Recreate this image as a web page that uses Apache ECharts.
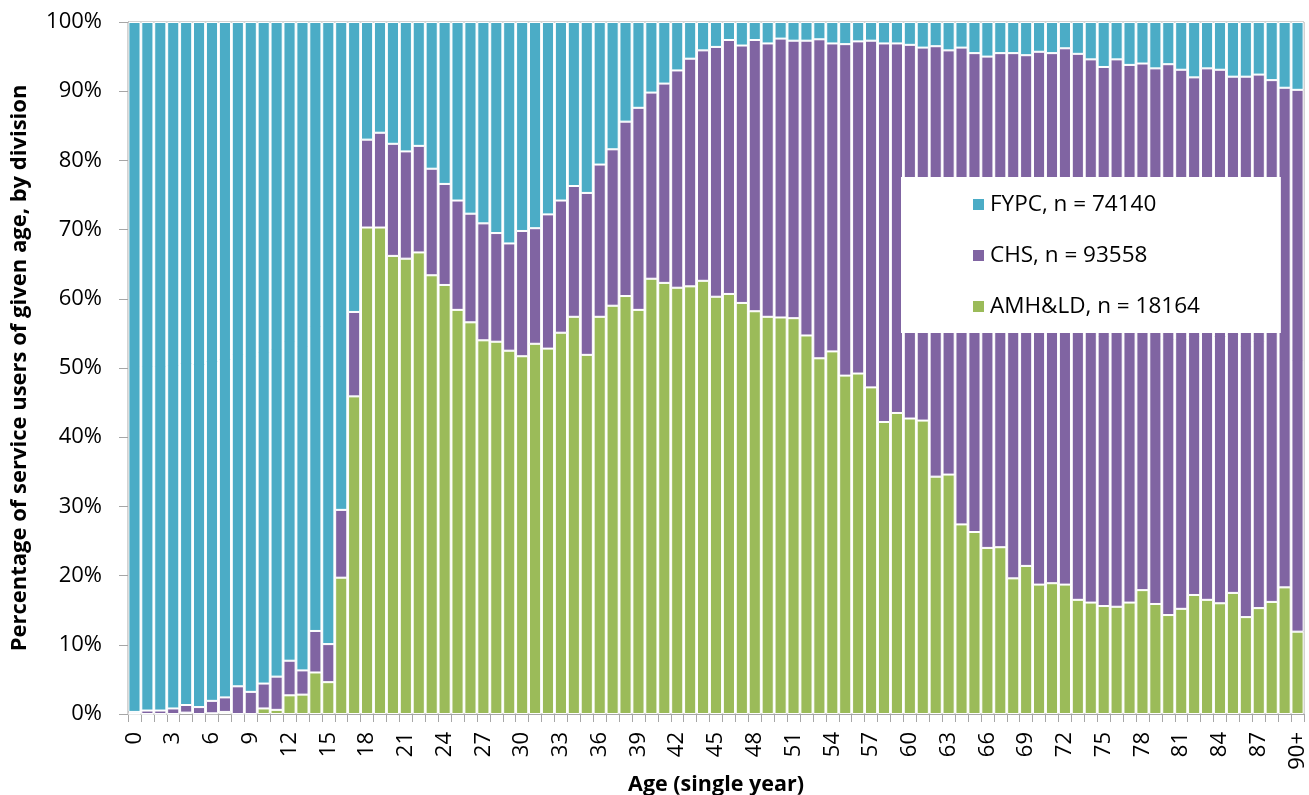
<!DOCTYPE html>
<html>
<head>
<meta charset="utf-8">
<script src="https://cdn.jsdelivr.net/npm/echarts@6/dist/echarts.min.js"></script>
<style>
html,body{margin:0;padding:0;background:#fff;}
#chart{width:1309px;height:795px;}
</style>
</head>
<body>
<div id="chart"></div>
<script>
// Ages 0..89 and 90+
const ages = [];
for (let i = 0; i < 90; i++) ages.push(String(i));
ages.push('90+');

const seriesNames = ['FYPC, n = 74140', 'CHS, n = 93558', 'AMH&LD, n = 18164'];

// Percentages per age
const amhld = [0,0,0,0,0.2,0,0.1,0.3,0,0,
  0.8,0.6,2.7,2.8,6.0,4.6,19.7,45.9,70.3,70.3,
  66.2,65.8,66.7,63.4,62.0,58.4,56.6,54.0,53.8,52.5,
  51.7,53.5,52.8,55.1,57.4,51.9,57.4,59.0,60.4,58.4,
  62.9,62.3,61.6,61.8,62.6,60.3,60.7,59.4,58.2,57.4,
  57.3,57.2,54.7,51.4,52.4,48.9,49.2,47.2,42.2,43.5,
  42.7,42.4,34.3,34.6,27.4,26.3,24.0,24.1,19.6,21.4,
  18.7,18.9,18.7,16.5,16.1,15.6,15.5,16.1,17.9,15.9,
  14.3,15.2,17.2,16.5,16.0,17.5,14.0,15.3,16.2,18.3,
  11.9];
const chs = [0.3,0.5,0.5,0.8,1.1,1.0,1.8,2.1,4.0,3.2,
  3.6,4.8,5.0,3.5,6.0,5.5,9.8,12.2,12.7,13.7,
  16.2,15.5,15.4,15.4,14.6,15.8,15.7,16.9,15.7,15.5,
  18.1,16.7,19.4,19.1,18.9,23.4,22.0,22.6,25.2,29.2,
  26.9,28.8,31.4,32.9,33.3,36.1,36.7,37.2,39.2,39.5,
  40.3,40.1,42.6,46.1,44.5,47.9,48.0,50.1,54.7,53.4,
  54.0,53.9,62.2,61.3,68.9,69.2,71.0,71.4,75.9,73.8,
  77.0,76.6,77.5,78.9,78.5,77.9,79.1,77.7,76.1,77.4,
  79.6,77.9,74.8,76.8,77.1,74.6,78.1,77.1,75.4,72.2,
  78.3];
const fypc = [99.7,99.5,99.5,99.2,98.7,99.0,98.1,97.6,96.0,96.8,
  95.6,94.6,92.3,93.7,88.0,89.9,70.5,41.9,17.0,16.0,
  17.6,18.7,17.9,21.2,23.4,25.8,27.7,29.1,30.5,32.0,
  30.2,29.8,27.8,25.8,23.7,24.7,20.6,18.4,14.4,12.4,
  10.2,8.9,7.0,5.3,4.1,3.6,2.6,3.4,2.6,3.1,
  2.4,2.7,2.7,2.5,3.1,3.2,2.8,2.7,3.1,3.1,
  3.3,3.7,3.5,4.1,3.7,4.5,5.0,4.5,4.5,4.8,
  4.3,4.5,3.8,4.6,5.4,6.5,5.4,6.2,6.0,6.7,
  6.1,6.9,8.0,6.7,6.9,7.9,7.9,7.6,8.4,9.5,
  9.8];

const colors = {fypc: '#4BACC6', chs: '#8064A2', amh: '#9BBB59'};
const FONT = 'Open Sans';

const chart = echarts.init(document.getElementById('chart'), null, {renderer: 'canvas'});

function barSeries(name, data, color) {
  return {
    name: name,
    type: 'bar',
    stack: 'total',
    data: data,
    barCategoryGap: '6%',
    itemStyle: {color: color, borderColor: '#ffffff', borderWidth: 1},
    emphasis: {disabled: true}
  };
}

chart.setOption({
  animation: false,
  textStyle: {fontFamily: FONT},
  grid: {left: 128, right: 5, top: 22, bottom: 81, containLabel: false, outerBoundsMode: 'none',
    show: true, borderColor: '#a6a6a6', borderWidth: 1, backgroundColor: 'transparent'},
  legend: {
    data: seriesNames,
    orient: 'vertical',
    left: 901,
    top: 177,
    backgroundColor: '#ffffff',
    padding: [16, 81, 15, 70],
    itemGap: 28,
    itemWidth: 13,
    itemHeight: 13,
    icon: 'rect',
    textStyle: {fontFamily: FONT, fontSize: 22.5, color: '#000'}
  },
  xAxis: {
    type: 'category',
    data: ages,
    name: 'Age (single year)',
    nameLocation: 'middle',
    nameGap: 60,
    nameMoveOverlap: false,
    nameTextStyle: {fontFamily: FONT, fontSize: 21.5, fontWeight: 'bold', color: '#000'},
    axisLine: {lineStyle: {color: '#a6a6a6', width: 1}},
    axisTick: {show: true, interval: 0, length: 8, lineStyle: {color: '#a6a6a6'}},
    axisLabel: {interval: 2, rotate: 90, margin: 18, fontFamily: FONT, fontSize: 22, color: '#000'}
  },
  yAxis: {
    type: 'value',
    min: 0,
    max: 100,
    interval: 10,
    name: 'Percentage of service users of given age, by division',
    nameLocation: 'middle',
    nameGap: 97,
    nameMoveOverlap: false,
    nameTextStyle: {fontFamily: FONT, fontSize: 22, fontWeight: 'bold', color: '#000'},
    axisLine: {show: true, lineStyle: {color: '#a6a6a6', width: 1}},
    axisTick: {show: true, length: 9, lineStyle: {color: '#a6a6a6'}},
    splitLine: {show: false},
    axisLabel: {margin: 26, fontFamily: FONT, fontSize: 22, color: '#000', formatter: '{value}%'}
  },
  series: [
    barSeries(seriesNames[2], amhld, colors.amh),
    barSeries(seriesNames[1], chs, colors.chs),
    barSeries(seriesNames[0], fypc, colors.fypc)
  ]
});
</script>
</body>
</html>
